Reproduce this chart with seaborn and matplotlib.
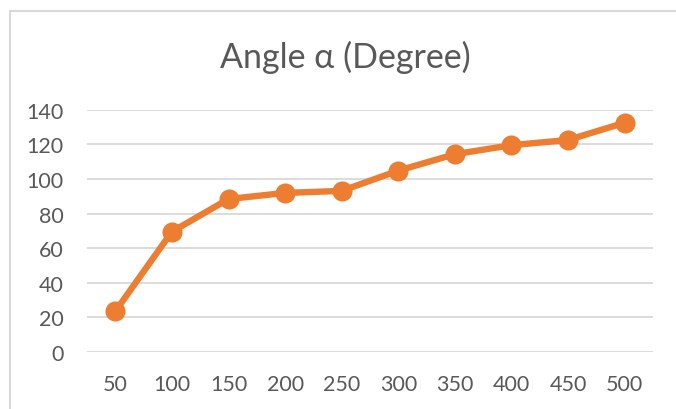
import matplotlib
matplotlib.use("Agg")
import matplotlib.pyplot as plt
from matplotlib.lines import Line2D
import seaborn as sns
import pandas as pd

# Angle measurements per load step
categories = ["50", "100", "150", "200", "250", "300", "350", "400", "450", "500"]
angle_deg = [23.5, 69.5, 88.4, 91.9, 93.1, 104.8, 114.3, 119.5, 122.5, 132.5]
y_ticks = [0, 20, 40, 60, 80, 100, 120, 140]
title = "Angle α (Degree)"

ORANGE = "#ED7D31"
GRID = "#D9D9D9"
TEXT = "#595959"

sns.set_theme(style="white")
plt.rcParams["font.family"] = ["Lato", "DejaVu Sans"]

df = pd.DataFrame({"category": categories, "angle": angle_deg})

W, H, DPI = 676, 410, 100
fig = plt.figure(figsize=(W / DPI, H / DPI), dpi=DPI)
fig.patch.set_facecolor("white")

# plot area in pixel terms
left_px, right_px, top_px, bottom_px = 87, 653, 110.7, 353
ax = fig.add_axes([left_px / W, 1 - bottom_px / H,
                   (right_px - left_px) / W, (bottom_px - top_px) / H])

sns.pointplot(data=df, x="category", y="angle", ax=ax, color=ORANGE,
              errorbar=None, markers="o", markersize=11, linewidth=4.6)

ax.set_ylim(0, 140)
ax.set_xlim(-0.5, len(categories) - 0.5)
ax.set_yticks(y_ticks)
ax.set_yticklabels([str(t) for t in y_ticks])
ax.set_xlabel("")
ax.set_ylabel("")
ax.yaxis.grid(True, color=GRID, linewidth=1.3)
ax.xaxis.grid(False)
ax.set_axisbelow(True)
for s in ax.spines.values():
    s.set_visible(False)
ax.tick_params(axis="both", length=0, labelsize=15.5, labelcolor=TEXT)
ax.tick_params(axis="y", pad=17)
ax.tick_params(axis="x", pad=16)

fig.text(345 / W, 1 - 57 / H, title, ha="center", va="center",
         fontsize=24.5, color=TEXT)

# chart frame (top and left edges)
fig.add_artist(Line2D([10 / W, 1.0], [1 - 12 / H, 1 - 12 / H],
                      transform=fig.transFigure, color=GRID, linewidth=1.5))
fig.add_artist(Line2D([10 / W, 10 / W], [0, 1 - 12 / H],
                      transform=fig.transFigure, color=GRID, linewidth=1.5))

fig.savefig("out.png", dpi=DPI)
